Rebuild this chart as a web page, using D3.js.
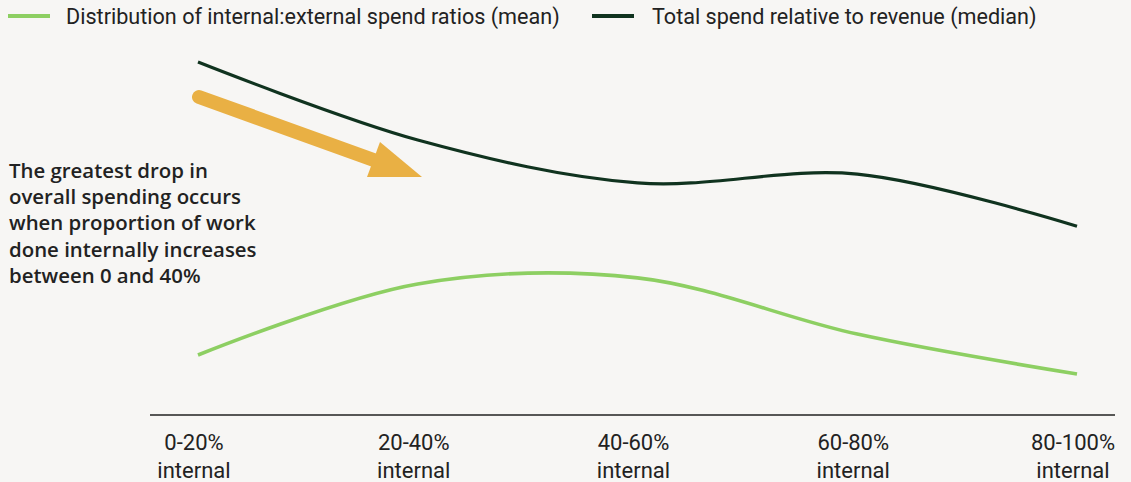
<!DOCTYPE html>
<html>
<head>
<meta charset="utf-8">
<script src="https://cdn.jsdelivr.net/npm/d3@7"></script>
<style>
  body { margin: 0; background: #f7f6f4; }
  svg { display: block; }
</style>
</head>
<body>
<div class="chart"></div>
<script>
//data
const categories = ["0-20%", "20-40%", "40-60%", "60-80%", "80-100%"];
const ratioMean = [1.50, 3.37, 3.53, 2.05, 1.00];      // green line
const spendMedian = [9.21, 7.16, 6.03, 6.26, 4.89];    // dark line
const seriesNames = ["Distribution of internal:external spend ratios (mean)",
                     "Total spend relative to revenue (median)"];
const noteLines = ["The greatest drop in", "overall spending occurs",
                   "when proportion of work", "done internally increases",
                   "between 0 and 40%"];

//canvas
const width = 1131, height = 482,
      green = "#8dcf62", dark = "#10331f", orange = "#e9b044", ink = "#222222";

const svg = d3.select(".chart").append("svg")
    .attr("width", width)
    .attr("height", height);

svg.append("rect").attr("width", width).attr("height", height).attr("fill", "#f7f6f4");

const x = d3.scalePoint().domain(categories).range([198, 1077]);
const y = d3.scaleLinear().domain([0, 10]).range([412, 32]);

//legend
const legend = svg.append("g");
[[green, 8, 66], [dark, 592, 652]].forEach((l, i) => {
  legend.append("line")
      .attr("x1", l[1]).attr("x2", l[1] + 42)
      .attr("y1", 16).attr("y2", 16)
      .attr("stroke", l[0]).attr("stroke-width", 4);
  legend.append("text")
      .attr("x", l[2]).attr("y", 24)
      .style("font-family", "Roboto")
      .style("font-size", "21.6px")
      .attr("fill", ink)
      .text(seriesNames[i]);
});

//x axis
svg.append("line")
    .attr("x1", 150).attr("x2", 1115)
    .attr("y1", 415).attr("y2", 415)
    .attr("stroke", ink).attr("stroke-width", 1.5);

const ticks = svg.append("g").selectAll("text")
    .data(categories)
    .enter().append("text")
    .attr("text-anchor", "middle")
    .style("font-family", "Roboto")
    .style("font-size", "22px")
    .attr("fill", ink);
ticks.append("tspan").attr("x", d => x(d) - 4).attr("y", 450).text(d => d);
ticks.append("tspan").attr("x", d => x(d) - 4).attr("y", 478).text("internal");

//lines
const line = d3.line()
    .x((d, i) => x(categories[i]))
    .y(d => y(d))
    .curve(d3.curveCatmullRom);

svg.append("path")
    .datum(spendMedian)
    .attr("fill", "none")
    .attr("stroke", dark)
    .attr("stroke-width", 3.2)
    .attr("d", line);

svg.append("path")
    .datum(ratioMean)
    .attr("fill", "none")
    .attr("stroke", green)
    .attr("stroke-width", 3.6)
    .attr("d", line);

//annotation arrow
svg.append("line")
    .attr("x1", 199).attr("y1", 97)
    .attr("x2", 382).attr("y2", 163)
    .attr("stroke", orange)
    .attr("stroke-width", 14)
    .attr("stroke-linecap", "round");
svg.append("polygon")
    .attr("points", "380,142 422,177 367,177")
    .attr("fill", orange);

//annotation text
svg.append("g").selectAll("text")
    .data(noteLines)
    .enter().append("text")
    .attr("x", 9)
    .attr("y", (d, i) => 178 + i * 26.2)
    .style("font-family", "'Open Sans'")
    .style("font-size", "20.4px")
    .style("font-weight", 600)
    .attr("fill", ink)
    .text(d => d);
</script>
</body>
</html>
